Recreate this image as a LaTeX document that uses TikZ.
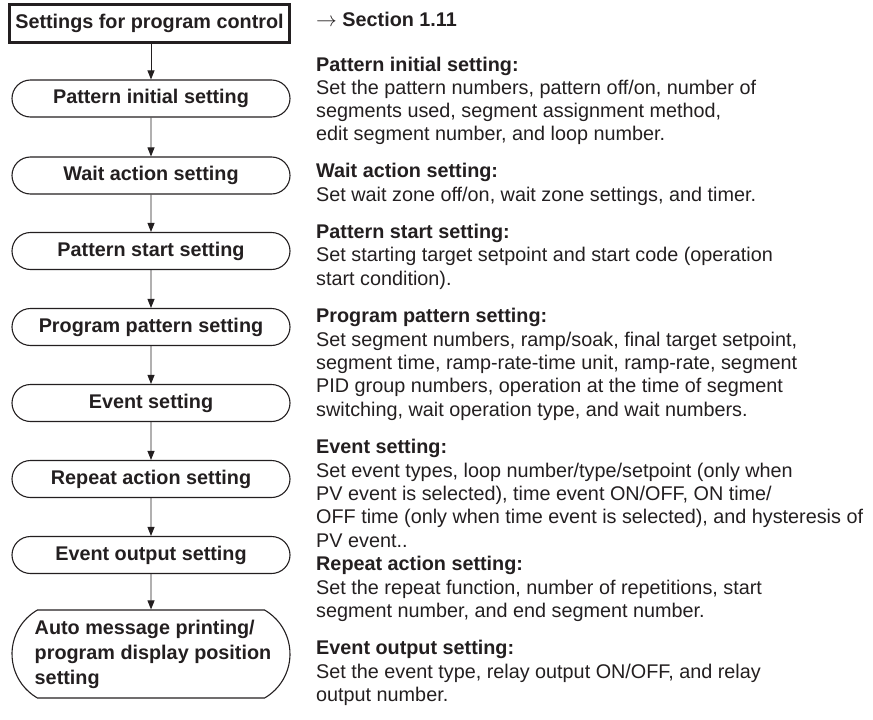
\documentclass[tikz,border=0pt]{standalone}
\usepackage{fontspec}
\setmainfont{Liberation Sans}
\usetikzlibrary{shapes.misc,arrows.meta}
\definecolor{ink}{RGB}{35,31,32}
\begin{document}
\begin{tikzpicture}[x=1pt,y=-1pt, color=ink,
  every node/.style={font=\fontsize{19.8}{24}\selectfont, text=ink},
  pill/.style={rounded rectangle, draw=ink, line width=1.1pt, minimum width=278pt, minimum height=37pt, inner sep=0pt, font=\fontsize{19.8}{24}\selectfont\bfseries},
  headbox/.style={rectangle, draw=ink, line width=2.2pt, minimum width=280pt, minimum height=38pt, inner sep=0pt, font=\fontsize{19.8}{24}\selectfont\bfseries},
  flow/.style={draw=ink, line width=0.9pt, -{Triangle[length=9pt,width=7pt]}},
  txt/.style={anchor=base west, inner sep=0pt},
  hd/.style={anchor=base west, inner sep=0pt, font=\fontsize{19.8}{24}\selectfont\bfseries}]
\useasboundingbox (0,0) rectangle (873,720);
% left column
\node[headbox] (top) at (149.5,23.5) {Settings for program control};
\node[pill] (p1) at (151,98.5) {Pattern initial setting};
\node[pill] (p2) at (151,175.5) {Wait action setting};
\node[pill] (p3) at (151,251) {Pattern start setting};
\node[pill] (p4) at (151,327) {Program pattern setting};
\node[pill] (p5) at (151,403) {Event setting};
\node[pill] (p6) at (151,479) {Repeat action setting};
\node[pill] (p7) at (151,555) {Event output setting};
\node[pill, rounded rectangle arc length=120, minimum height=88pt, align=left, font=\fontsize{19.8}{25}\selectfont\bfseries] (p8) at (151,654) {\hspace*{4pt}Auto message printing/\\\hspace*{4pt}program display position\\\hspace*{4pt}setting};
\draw[flow] (top.south -| p1.north) -- (p1.north);
\draw[flow] (p1) -- (p2);
\draw[flow] (p2) -- (p3);
\draw[flow] (p3) -- (p4);
\draw[flow] (p4) -- (p5);
\draw[flow] (p5) -- (p6);
\draw[flow] (p6) -- (p7);
\draw[flow] (p7) -- (p8);
% right column
\node[txt] (s0) at (316,27) {$\rightarrow$ \textbf{Section 1.11}};
\node[hd] (h1) at (316,71) {Pattern initial setting:};
\node[txt] (a1) at (316,94.2) {Set the pattern numbers, pattern off/on, number of};
\node[txt] (a2) at (316,117.3) {segments used, segment assignment method,};
\node[txt] (a3) at (316,140.4) {edit segment number, and loop number.};
\node[hd] (h2) at (316,177.6) {Wait action setting:};
\node[txt] (b1) at (316,201) {Set wait zone off/on, wait zone settings, and timer.};
\node[hd] (h3) at (316,238.4) {Pattern start setting:};
\node[txt] (c1) at (316,261.8) {Set starting target setpoint and start code (operation};
\node[txt] (c2) at (316,285.2) {start condition).};
\node[hd] (h4) at (316,322.6) {Program pattern setting:};
\node[txt] (d1) at (316,346) {Set segment numbers, ramp/soak, final target setpoint,};
\node[txt] (d2) at (316,369.4) {segment time, ramp-rate-time unit, ramp-rate, segment};
\node[txt] (d3) at (316,392.8) {PID group numbers, operation at the time of segment};
\node[txt] (d4) at (316,416.2) {switching, wait operation type, and wait numbers.};
\node[hd] (h5) at (316,453.6) {Event setting:};
\node[txt] (e1) at (316,477) {Set event types, loop number/type/setpoint (only when};
\node[txt] (e2) at (316,500.4) {PV event is selected), time event ON/OFF, ON time/};
\node[txt] (e3) at (316,523.8) {OFF time (only when time event is selected), and hysteresis of};
\node[txt] (e4) at (316,547.2) {PV event..};
\node[hd] (h6) at (316,570.6) {Repeat action setting:};
\node[txt] (f1) at (316,594) {Set the repeat function, number of repetitions, start};
\node[txt] (f2) at (316,617.4) {segment number, and end segment number.};
\node[hd] (h7) at (316,654.8) {Event output setting:};
\node[txt] (g1) at (316,678.2) {Set the event type, relay output ON/OFF, and relay};
\node[txt] (g2) at (316,701.6) {output number.};
\end{tikzpicture}
\end{document}
